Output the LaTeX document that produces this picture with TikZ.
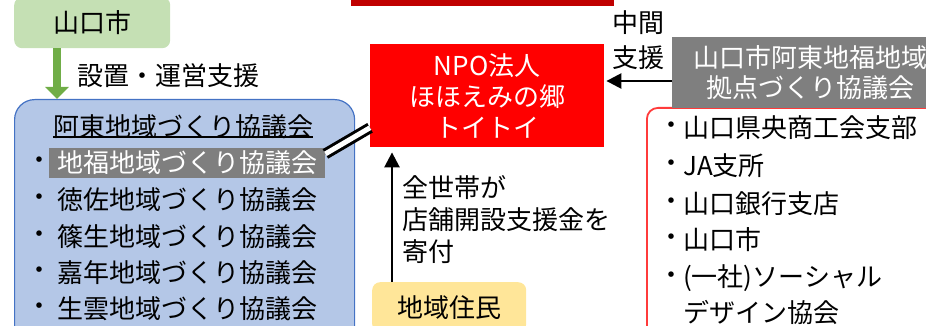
\documentclass[tikz,border=0pt]{standalone}
\usepackage{fontspec}
\newfontfamily\jp{Noto Sans CJK JP}
\usetikzlibrary{arrows.meta,calc}
\definecolor{gbox}{HTML}{C5E0B4}
\definecolor{garr}{HTML}{70AD47}
\definecolor{bfill}{HTML}{B4C7E7}
\definecolor{bline}{HTML}{4472C4}
\definecolor{grayc}{HTML}{7F7F7F}
\definecolor{redc}{HTML}{FF0000}
\definecolor{dred}{HTML}{C00000}
\definecolor{ybox}{HTML}{FFE699}
\definecolor{rline}{HTML}{FF3B3B}
\tikzset{
  txt/.style={inner sep=0pt, font=\jp\fontsize{26}{31}\selectfont, text=black},
  greenbox/.style={fill=gbox, rounded corners=8pt, inner sep=0pt, font=\jp\fontsize{26}{31}\selectfont},
  bluebox/.style={fill=bfill, draw=bline, line width=1.2pt, rounded corners=20pt, inner sep=0pt},
  hlbox/.style={fill=grayc, text=white, inner xsep=8pt, inner ysep=0pt, minimum height=30pt, font=\jp\fontsize{26}{31}\selectfont},
  redbox/.style={fill=redc, text=white, inner sep=0pt, align=center, font=\jp\fontsize{26}{31}\selectfont},
  graybox/.style={fill=grayc, text=white, inner sep=0pt, align=center, font=\jp\fontsize{26}{30}\selectfont},
  yellowbox/.style={fill=ybox, rounded corners=8pt, inner sep=0pt, font=\jp\fontsize{26}{31}\selectfont},
  redline/.style={draw=rline, line width=1.8pt, fill=white, rounded corners=11pt, inner sep=0pt},
  garrow/.style={draw=garr, line width=8pt, -{Triangle[width=23pt,length=12pt]}},
  barrow/.style={draw=black, line width=2.5pt, -{Triangle[width=15pt,length=15pt]}},
  dbl/.style={draw=black, line width=3pt, double=white, double distance=5pt},
  uline/.style={draw=black, line width=1.5pt},
}
\begin{document}
\begin{tikzpicture}[x=1pt,y=-1pt]
\useasboundingbox (0,0) rectangle (926,326);
% top dark red bar
\node[fill=dred, inner sep=0pt, anchor=south west, minimum width=263pt, minimum height=12pt] (bar) at (351,6) {};
% Yamaguchi city
\node[greenbox, anchor=north west, minimum width=156pt, minimum height=51pt] (shi) at (14,-3) {山口市};
% blue council box
\node[bluebox, anchor=north west, minimum width=340pt, minimum height=260pt] (ato) at (14,99) {};
\draw[garrow] ($(shi.south west)+(43,0)$) -- ($(ato.north west)+(43,0)$);
\node[txt, anchor=west] (setchi) at (77,76) {設置・運営支援};
\node[txt] (title) at (183,127) {阿東地域づくり協議会};
\draw[uline] ($(title.west)+(0,10)$) -- ($(title.east)+(0,10)$);
\node[txt] (b1) at (40,163) {・};
\node[hlbox, anchor=west] (hl) at (49,163) {地福地域づくり協議会};
\node[txt] (b2) at (40,200) {・};
\node[txt, anchor=west] (r2) at (57,200) {徳佐地域づくり協議会};
\node[txt] (b3) at (40,237) {・};
\node[txt, anchor=west] (r3) at (57,237) {篠生地域づくり協議会};
\node[txt] (b4) at (40,273) {・};
\node[txt, anchor=west] (r4) at (57,273) {嘉年地域づくり協議会};
\node[txt] (b5) at (40,309) {・};
\node[txt, anchor=west] (r5) at (57,309) {生雲地域づくり協議会};
% NPO
\node[redbox, anchor=north west, minimum width=234pt, minimum height=103pt] (npo) at (370,44) {NPO法人\\ほほえみの郷\\トイトイ};
\draw[dbl] ($(hl.north east)!0.2!(hl.south east)$) -- ($(npo.south west)!0.19!(npo.north west)$);
% residents
\node[yellowbox, anchor=north west, minimum width=154pt, minimum height=50pt] (jumin) at (372,282) {地域住民};
\draw[barrow, shorten >=5pt] ($(jumin.north west)+(20,0)$) -- ($(npo.south west)+(22,0)$);
\node[txt, anchor=west, align=left, font=\jp\fontsize{26}{32}\selectfont] (kifu) at (402,220) {全世帯が\\店舗開設支援金を\\寄付};
% right side
\node[redline, anchor=north west, minimum width=320pt, minimum height=240pt] (members) at (646,107) {};
\node[graybox, anchor=north west, minimum width=276pt, minimum height=71pt] (kyoten) at (672,37) {山口市阿東地福地域\\拠点づくり協議会};
\draw[barrow, shorten >=2pt] ($(kyoten.north west)+(0,44)$) -- ($(npo.north east)+(0,37)$);
\node[txt, anchor=west, align=left, font=\jp\fontsize{26}{35}\selectfont] (chukan) at (612,40) {中間\\支援};
\node[txt] (m1b) at (671,128) {・};
\node[txt, anchor=west] (m1) at (683,128) {山口県央商工会支部};
\node[txt] (m2b) at (671,166) {・};
\node[txt, anchor=west] (m2) at (683,166) {JA支所};
\node[txt] (m3b) at (671,204) {・};
\node[txt, anchor=west] (m3) at (683,204) {山口銀行支店};
\node[txt] (m4b) at (671,240) {・};
\node[txt, anchor=west] (m4) at (683,240) {山口市};
\node[txt] (m5b) at (671,278) {・};
\node[txt, anchor=west] (m5) at (683,278) {(一社)ソーシャル};
\node[txt, anchor=west] (m6) at (683,313) {デザイン協会};
\end{tikzpicture}
\end{document}
